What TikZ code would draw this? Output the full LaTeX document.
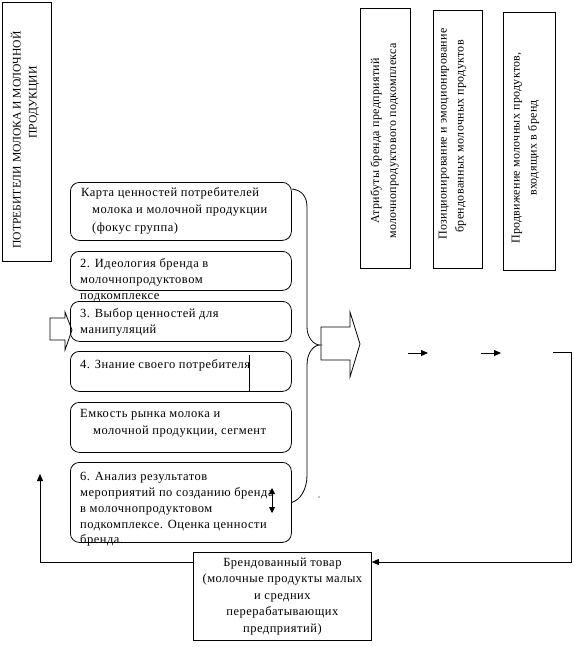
\documentclass[tikz,border=0pt]{standalone}
\usepackage{fontspec}
\setmainfont{Liberation Serif}
\newfontfamily\bxf[LetterSpace=4]{Liberation Serif}
\newfontfamily\vxf[LetterSpace=2.5]{Liberation Serif}
\usetikzlibrary{arrows.meta}
\begin{document}
\begin{tikzpicture}[x=1pt,y=-1pt,
  every node/.style={inner sep=0pt},
  rbox/.style={draw, line width=0.8pt, rounded corners=9pt, anchor=north west, minimum width=221pt},
  sbox/.style={draw, line width=0.8pt, anchor=north west},
  txt/.style={anchor=north west, align=left, font=\bxf\fontsize{12.5}{16}\selectfont},
  vtxt/.style={rotate=90, align=center, font=\vxf\fontsize{12}{17}\selectfont},
  ln/.style={line width=0.8pt},
  tip/.style={line width=0.8pt, -{Triangle[length=7pt,width=6pt]}},
]
\useasboundingbox (0,0) rectangle (573,647);

% left vertical box
\node[sbox, minimum width=49pt, minimum height=259pt] (cons) at (2,2) {};
\node[vtxt, align=left, font=\fontsize{11.6}{16}\selectfont] at (25,140) {ПОТРЕБИТЕЛИ МОЛОКА И МОЛОЧНОЙ\\\hspace*{110pt}ПРОДУКЦИИ};

% right vertical boxes
\node[sbox, minimum width=50pt, minimum height=260pt] (attr) at (360,8) {};
\node[vtxt] at (384.5,141) {Атрибуты бренда предприятий\\молочнопродуктового подкомплекса};
\node[sbox, minimum width=49pt, minimum height=258pt] (pos) at (433,10) {};
\node[vtxt, align=right] at (452.5,134) {Позиционирование и эмоционирование\\брендованных молочных продуктов\kern12pt\null};
\node[sbox, minimum width=52pt, minimum height=258pt] (prom) at (503,12) {};
\node[vtxt] at (525.5,148) {Продвижение молочных продуктов,\\входящих в бренд};

% rounded boxes
\node[rbox, minimum height=58pt] (b1) at (70,182) {};
\node[rbox, minimum height=39pt] (b2) at (70,251) {};
\node[rbox, minimum height=40pt] (b3) at (70,301) {};
\node[rbox, minimum height=40pt] (b4) at (70,351) {};
\node[rbox, minimum height=50pt] (b5) at (70,402) {};
\node[rbox, minimum height=80pt] (b6) at (70,462) {};

\node[txt, font=\bxf\fontsize{12.5}{17.5}\selectfont] (t1) at (81,187.3) {Карта ценностей потребителей\\\hspace*{11pt}молока и молочной продукции\\\hspace*{11pt}(фокус группа)};
\node[txt] (t2) at (80,258.3) {2. Идеология бренда в\\молочнопродуктовом\\подкомплексе};
\node[txt] (t3) at (80,308.3) {3. Выбор ценностей для\\манипуляций};
\node[txt] (t4) at (80,359.3) {4. Знание своего потребителя};
\node[txt, font=\bxf\fontsize{12.5}{17}\selectfont] (t5) at (80,409.3) {Емкость рынка молока и\\\hspace*{13pt}молочной продукции, сегмент};
\node[txt, font=\bxf\fontsize{12.5}{15.8}\selectfont] (t6) at (80,472.3) {6. Анализ результатов\\мероприятий по созданию бренда\\в молочнопродуктовом\\подкомплексе. Оценка ценности\\бренда.};

% bar in box 4
\draw[ln] (249,355) -- (249,391);
% double arrow in box 6
\draw[ln, {Triangle[length=6pt,width=6pt]}-{Triangle[length=6pt,width=6pt]}] (272,488) -- (272,513);
% stray dot
\fill (319,497) circle (0.6pt);

% bracket
\draw[ln] ([yshift=-7pt]b1.north east) .. controls (302,190) and (307,197) .. (307,207) -- (307,327)
  .. controls (307,338) and (314,345) .. (320,345)
  .. controls (314,345) and (307,352) .. (307,365) -- (307,475)
  .. controls (307,490) and (300,500) .. (b6.east);

% big arrow
\draw[ln] (321,327) -- (350,327) -- (350,312) -- (360,344) -- (350,377) -- (350,360) -- (321,360) -- cycle;
% left input arrow
\draw[ln] (50,318) -- (65,318) -- (65,312) -- (72,330) -- (65,350) -- (65,340) -- (50,340) -- cycle;

% small arrows
\coordinate (a1s) at (408,353); \coordinate (a1e) at (428,353);
\coordinate (a2s) at (481,353); \coordinate (a2e) at (501,353);
\draw[tip] (a1s) -- (a1e);
\draw[tip] (a2s) -- (a2e);

% bottom box
\node[sbox, minimum width=178pt, minimum height=88pt, align=center, font=\bxf\fontsize{12.5}{16.5}\selectfont] (bb) at (193,552) {Брендованный товар\\(молочные продукты малых\\и средних\\перерабатывающих\\предприятий)};

% feedback loop
\coordinate (rs) at (553,352);
\draw[tip] (rs) -- (571,352) -- (571,562) -- ([yshift=-10pt]bb.north east);
\coordinate (up) at (40,474);
\draw[tip] ([yshift=-10pt]bb.north west) -| (up);
\end{tikzpicture}
\end{document}
